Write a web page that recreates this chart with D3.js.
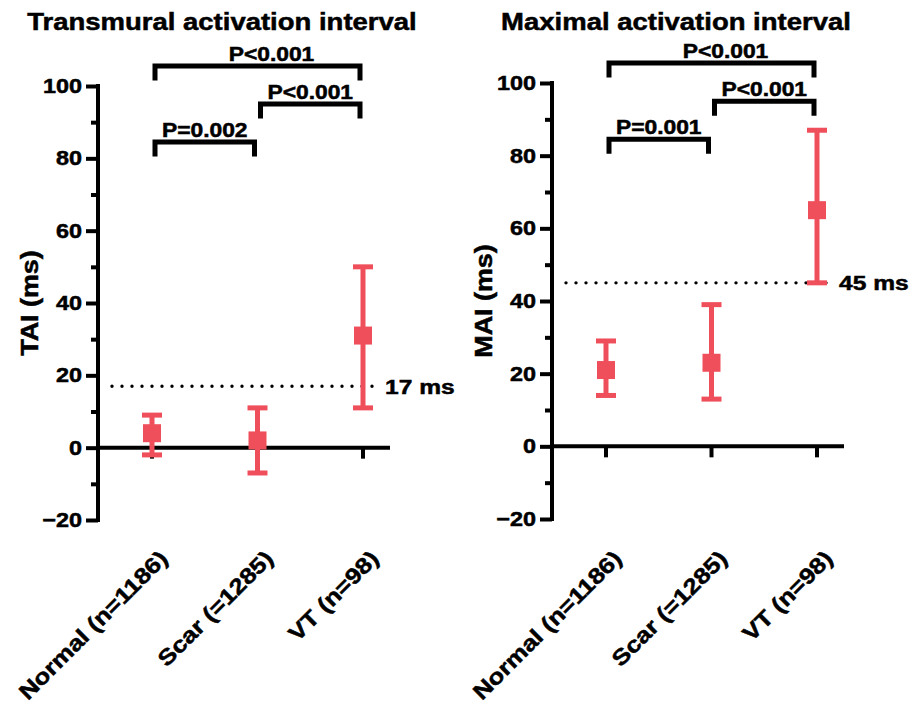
<!DOCTYPE html>
<html>
<head>
<meta charset="utf-8">
<script src="https://cdn.jsdelivr.net/npm/d3@7"></script>
<style>
  body { margin: 0; background: #fff; }
  text { font-family: "Liberation Sans", Arial, sans-serif; font-weight: bold; fill: #000;
         stroke: #000; stroke-width: 0.5px; }
</style>
</head>
<body>
<div id="chart"></div>
<script>
// Data
const groups = ["Normal (n=1186)", "Scar (=1285)", "VT (n=98)"];
const yTicks = [-20, 0, 20, 40, 60, 80, 100];
const yMinorTicks = [-10, 10, 30, 50, 70, 90];

const taiMean = [4, 2, 31];
const taiLow = [-2, -7, 11];
const taiHigh = [9, 11, 50];
const taiCutoff = 17;
const taiPValues = ["P<0.001", "P<0.001", "P=0.002"];

const maiMean = [21, 23, 65];
const maiLow = [14, 13, 45];
const maiHigh = [29, 39, 87];
const maiCutoff = 45;
const maiPValues = ["P<0.001", "P<0.001", "P=0.001"];

// which groups each bracket joins, and the level (in ms) of its bar
const bracketPairs = [[0, 2], [1, 2], [0, 1]];
const bracketLevels = [105.5, 95, 84.5];

const red = "#ef4f5b";
const stretch = 1.17; // the original lettering is wide

const svg = d3.select("#chart").append("svg")
    .attr("width", 910)
    .attr("height", 705);

// places a label at (x, y), optionally rotated, with the wide lettering
function label(sel, x, y, rot, size, anchor) {
  return sel.append("text")
      .attr("transform", `translate(${x}, ${y}) rotate(${rot}) scale(${stretch}, 1)`)
      .attr("text-anchor", anchor)
      .style("font-size", size + "px");
}

function drawPanel(opts) {
  const g = svg.append("g")
      .attr("transform", `translate(${opts.left}, 0)`);

  const plotW = 292;
  const y = d3.scaleLinear()
      .domain([-20, 100])
      .range([opts.bottom, opts.top]);
  const x = d3.scalePoint()
      .domain(groups)
      .range([54, 265]);

  // Title
  label(g, 124, 30, 0, 23.5, "middle").text(opts.title);

  // Y axis
  const yAxis = g.append("g")
      .call(d3.axisLeft(y).tickValues(yTicks).tickSize(12).tickSizeOuter(0));
  yAxis.select(".domain").remove();
  yAxis.selectAll(".tick line").attr("stroke", "#000").attr("stroke-width", 4);
  yAxis.selectAll(".tick text")
      .attr("x", 0)
      .attr("transform", `translate(-16, 0) scale(${stretch}, 1)`)
      .style("font-size", "20px")
      .style("font-family", "'Liberation Sans', Arial, sans-serif")
      .style("font-weight", "bold");

  const yMinor = g.append("g")
      .call(d3.axisLeft(y).tickValues(yMinorTicks).tickSize(7).tickFormat(""));
  yMinor.select(".domain").remove();
  yMinor.selectAll(".tick line").attr("stroke", "#000").attr("stroke-width", 4);

  g.append("line")
      .attr("x1", 0).attr("x2", 0)
      .attr("y1", y(100) - 2).attr("y2", y(-20) + 2)
      .attr("stroke", "#000").attr("stroke-width", 4);

  // X axis at zero
  g.append("line")
      .attr("x1", 0).attr("x2", plotW)
      .attr("y1", y(0)).attr("y2", y(0))
      .attr("stroke", "#000").attr("stroke-width", 4);
  g.selectAll(".xtick")
    .data(groups)
    .enter().append("line")
      .attr("class", "xtick")
      .attr("x1", d => x(d)).attr("x2", d => x(d))
      .attr("y1", y(0)).attr("y2", y(0) + 11)
      .attr("stroke", "#000").attr("stroke-width", 4);

  // x labels
  groups.forEach(d => {
    label(g, x(d) + 17, 560, -45, 22, "end").text(d);
  });

  // y label
  label(g, -68, (y(100) + y(-20)) / 2, -90, 23, "middle")
      .attr("dy", "0.35em")
      .text(opts.yLabel);

  // cutoff dotted line
  g.append("line")
      .attr("x1", 14).attr("x2", 283)
      .attr("y1", y(opts.cutoff)).attr("y2", y(opts.cutoff))
      .attr("stroke", "#000")
      .attr("stroke-width", 3.4)
      .attr("stroke-linecap", "round")
      .attr("stroke-dasharray", "0 10");
  label(g, 287, y(opts.cutoff), 0, 21, "start")
      .attr("dy", "0.35em")
      .text(`${opts.cutoff} ms`);

  // error bars
  const pts = groups.map((d, i) => ({ g: d, mean: opts.mean[i], low: opts.low[i], high: opts.high[i] }));
  const bars = g.selectAll(".err")
    .data(pts)
    .enter().append("g")
      .attr("class", "err");
  bars.append("line")
      .attr("x1", d => x(d.g)).attr("x2", d => x(d.g))
      .attr("y1", d => y(d.low)).attr("y2", d => y(d.high))
      .attr("stroke", red).attr("stroke-width", 5);
  bars.selectAll(".cap")
    .data(d => [[d.g, d.low], [d.g, d.high]])
    .enter().append("line")
      .attr("x1", d => x(d[0]) - 10).attr("x2", d => x(d[0]) + 10)
      .attr("y1", d => y(d[1])).attr("y2", d => y(d[1]))
      .attr("stroke", red).attr("stroke-width", 5);
  bars.append("rect")
      .attr("x", d => x(d.g) - 9)
      .attr("y", d => y(d.mean) - 9)
      .attr("width", 18).attr("height", 18)
      .attr("fill", red);

  // significance brackets
  const drop = 4;
  bracketPairs.forEach((pair, i) => {
    const x1 = x(groups[pair[0]]) + 3;
    const x2 = x(groups[pair[1]]) - 3;
    const lvl = bracketLevels[i];
    g.append("path")
        .attr("d", `M${x1},${y(lvl - drop)}V${y(lvl)}H${x2}V${y(lvl - drop)}`)
        .attr("fill", "none")
        .attr("stroke", "#000")
        .attr("stroke-width", 5);
    // the label over the widest bracket sits a little right of centre
    const shift = (pair[1] - pair[0] === 2) ? 14 : 0;
    label(g, (x1 + x2) / 2 + shift, y(lvl) - 5, 0, 19.5, "middle")
        .text(opts.pValues[i]);
  });
}

drawPanel({
  left: 98, top: 86, bottom: 520,
  title: "Transmural activation interval",
  yLabel: "TAI (ms)",
  mean: taiMean, low: taiLow, high: taiHigh,
  cutoff: taiCutoff, pValues: taiPValues
});

drawPanel({
  left: 552, top: 83, bottom: 519,
  title: "Maximal activation interval",
  yLabel: "MAI (ms)",
  mean: maiMean, low: maiLow, high: maiHigh,
  cutoff: maiCutoff, pValues: maiPValues
});
</script>
</body>
</html>
